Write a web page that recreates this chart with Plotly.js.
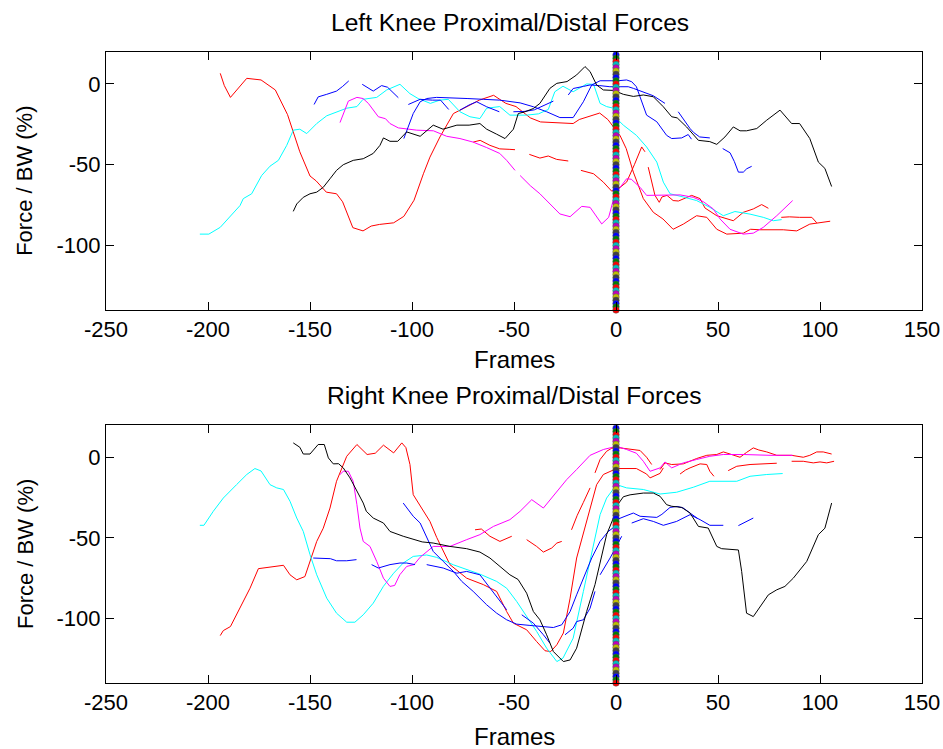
<!DOCTYPE html>
<html>
<head>
<meta charset="utf-8">
<script src="https://cdn.plot.ly/plotly-3.0.1.min.js"></script>
<style>html,body{margin:0;padding:0;background:#fff;}#chart{width:943px;height:749px;}</style>
</head>
<body>
<div id="chart"></div>
<script>
// ---------------- DATA: Left knee (top panel) ----------------
const topRed1X = [-194,-192,-189,-186,-181,-174,-167,-161,-158,-155,-150,-147,-142,-137,-134,-129,-124,-120,-116,-109,-104,-99,-94.4,-91.2,-86.3,-79.7,-73,-67,-60,-54,-49,-42,-37,-30,-21,-18,-13,-8,-4,-1,2,5,8.5,13.4,18.3,23,28,33,39.5,44.5,49.4,54.3,62.4,66,70.6,82,88.6,95,101.6,105];
const topRed1Y = [6.6,-1,-8.3,-4,3.5,2.5,-3.7,-19,-30,-42,-57,-60,-67,-68,-73,-89,-91,-88,-87,-86,-82,-72,-55.6,-45.3,-32.8,-18.3,-14,-10,-7,-12,-14,-21,-23.5,-24,-24.5,-22,-20,-18,-22,-27,-32,-40,-54.6,-71,-79.5,-83.6,-90,-86.8,-81.6,-82.6,-90,-93,-92.4,-90,-90.3,-90.3,-91,-86.8,-85.7,-85];
const topRed2aX = [-70,-66.6,-61.8,-57,-52,-49.5];
const topRed2aY = [-36,-34.9,-38,-40.2,-40.5,-40.7];
const topRed2bX = [-42.5,-37.3,-33.2,-29.1,-23.4];
const topRed2bY = [-43.6,-45.9,-44.6,-46.7,-47.7];
const topRed2cX = [-17.2,-11,-6.2,-2.1,2,5.2,9,12.6,14.2];
const topRed2cY = [-53.5,-55.6,-60.8,-66.4,-64,-60.8,-50,-39,-42];
const topRed3X = [15.8,17.5,19.1,21.2,22.5,25,28,30.6,37.1,41.2,43.6,49.4,57.5,62.4,67.3,71.4,74.7];
const topRed3Y = [-51.5,-60,-69,-73.3,-70,-69,-72.2,-72.5,-69,-71,-76.8,-81.6,-84.7,-79.5,-77.4,-74.7,-77];
const topRed4X = [81,85,90,96,98.4];
const topRed4Y = [-82.6,-82.3,-82.6,-82.6,-86];

const topBlue1X = [-148,-146,-141.8,-137,-134,-131];
const topBlue1Y = [-12.7,-8,-6.4,-4.4,-1.5,1.9];
const topBlue2X = [-124.4,-119,-114.9,-112,-106.7];
const topBlue2Y = [-0.2,-4.4,-1,-2,-8.5];
const topBlue3X = [-104,-99.4,-96,-92.8,-87.9,-80,-73,-65,-57,-47,-40.5,-34,-27.5,-21,-16,-11.9,-7.8,-2,1,5.2,7.7,10,12.6,15,20,24.8,27.3,32.2,35.4,37];
const topBlue3Y = [-33.8,-18.3,-11,-9,-8.3,-8.5,-9,-9.5,-10,-11.7,-14.1,-17.2,-20.8,-20.8,-11,-0.6,2,2,2,2.5,1.4,-1.7,-11,-19.3,-23.4,-31.8,-33.8,-33.4,-31.3,-34.2];
const topBlue4X = [-101.8,-96,-90,-86,-82];
const topBlue4Y = [-12.7,-9.5,-10,-10,-15.8];
const topBlue5X = [-76.5,-72,-68.3,-63.4,-57.2];
const topBlue5Y = [-16.2,-13,-11,-14.1,-17.2];
const topBlue6aX = [-50.3,-45,-40,-35,-30.7];
const topBlue6aY = [-17.2,-17,-16,-13,-10.6];
const topBlue6bX = [-23.4,-21,-16,-12.7,-8,-3,2,6,8.5,13.4,18.3,24];
const topBlue6bY = [-6.8,-2.8,-1.5,-0.6,-1,-1.7,-1.7,-1.7,-2.7,-4.8,-7.3,-12];
const topBlue7X = [30.5,33,36.3,38,41,46];
const topBlue7Y = [-17.2,-22,-27.6,-30,-32.8,-33.4];
const topBlue8X = [52.3,55.9,58,60,62.4,64.1,66.5];
const topBlue8Y = [-40,-42.6,-48,-54.6,-54.6,-52.5,-51];

const topCyanX = [-204,-199.6,-194,-190.7,-184.3,-182.7,-178.6,-173.7,-169.6,-165.5,-161.4,-158.2,-155,-151.6,-146.7,-141.8,-137,-132,-127,-124,-117.3,-112.4,-105.9,-101,-97,-91,-86.3,-82.2,-76.5,-71.6,-66.7,-63.4,-57,-52,-43.8,-38,-33.2,-30,-26,-21,-14.4,-11,-7.8,-4.6,-1.3,0.3,3.6,10,15,20,23.2,26.5,33,39.5,46,52.6,58.3,65.7,72.2,77.1,81.2];
const topCyanY = [-93,-93,-88.8,-84,-75.3,-71,-68,-56.7,-50.9,-47.3,-38,-28.6,-28,-30.7,-24.5,-19.7,-17.2,-15,-14,-9.5,-8.3,-3.7,-0.2,-6,-9,-12,-10,-9.5,-17.2,-20.3,-21.4,-15,-14,-19.3,-19.3,-18.5,-15.8,-4.8,-1.4,-4.8,0,-0.2,-12,-14,-15,-21.4,-25.5,-31.8,-39,-48.4,-60.8,-68,-70,-72.2,-76.4,-81.6,-79,-80.6,-82.6,-84.7,-84];

const topMag1X = [-135.3,-133.7,-131.2,-127,-124,-121.4,-116.5,-113,-110.8,-106.7,-101,-97.7,-89.5,-83,-76.5,-70,-63.4,-57,-53.6,-49.5];
const topMag1Y = [-23.9,-18.9,-10.6,-8.3,-9,-12,-20.3,-21.5,-24.5,-27.2,-28,-28.6,-29,-32.4,-33.8,-36,-39.4,-43,-47.3,-53.5];
const topMag2X = [-47,-42,-37.3,-32.4,-27.5,-22.5,-16.8,-12.7,-7,-3.6,-0.5,0.3,5.2,7.5,11.8,15,21.6,31.4,37.9,42.8,47.7,51,55.9,62.4,67.3,72.2,78.8,82.8,86.6];
const topMag2Y = [-56.7,-63,-68,-74.3,-80.5,-82.2,-75.8,-76.4,-86.7,-82.6,-68,-67,-58.7,-59,-64,-69,-68.7,-68.7,-70.2,-72.9,-77.4,-83.6,-90,-93,-92.4,-88.8,-81.6,-77,-72.2];

const topBlackX = [-158.2,-156.5,-153.3,-150,-146.7,-143.5,-140.2,-137,-133.7,-128.8,-123.9,-119,-115.7,-114,-110.8,-107,-102.6,-96,-89.6,-84.8,-78,-72,-66.7,-63.4,-58.5,-54.4,-50.3,-47.9,-44.6,-40.5,-37.3,-32.4,-29,-24,-19.3,-15.2,-12.7,-9.5,-6.2,-1,3.6,8.5,13.4,18.3,23.2,27.3,30,34.6,40.4,46,49.4,53.4,57.5,60.8,64,69,73.9,80.4,86.1,90,95,99.2,102.4,105.7];
const topBlackY = [-78.9,-74.3,-70.2,-68,-67,-64,-58.7,-53.5,-50,-47.3,-46.3,-43,-38,-33.4,-35.5,-35.5,-29.7,-32.4,-25.5,-28,-25.5,-25.5,-24.5,-28,-31.1,-33.8,-28,-18.3,-17.2,-15.2,-12,-2.7,0.4,1.5,5.6,10.8,7.7,-0.6,-3.7,-4,-6.4,-7.7,-6.8,-7.9,-14.1,-20.3,-21,-26.6,-34.9,-35.7,-37.4,-32.8,-26.6,-29,-29,-27.6,-22.4,-16.2,-24.5,-24.5,-33.8,-48.4,-52.3,-63.5];

// ---------------- DATA: Right knee (bottom panel) ----------------
const botRed1X = [-194,-192.5,-189,-184.3,-179.4,-175.3,-171.4,-163,-159.8,-156.5,-152.5,-146.7,-143.5,-140.2,-137,-132,-127,-122,-118,-114,-109,-105,-103,-101,-99.4,-96,-91.2,-87.9,-84.7,-81.4,-73.2,-65,-58.5,-53.6,-50.3,-43.8,-38.9,-34.8,-32,-29,-25.8,-22.5,-19.3,-14.4,-9.5,-6.2,-1.3,0.3,10,15,16.7,21.6,23.2];
const botRed1Y = [-110.6,-107.5,-105,-93.6,-81.2,-69.1,-68.3,-67,-72.9,-76,-74,-52.2,-44,-31.5,-14.9,0.6,7.9,1.7,2.5,7.5,2.7,8.9,6,-4.5,-23.2,-30.4,-39.8,-49.7,-58.4,-66.6,-75,-79,-83.2,-95.7,-102.9,-107,-114.3,-120,-120.5,-116.3,-109,-87.4,-62.5,-39.8,-17,-10.7,-7.6,-7,-7,-10.4,-12.8,-10,-6.6];
const botRed3aX = [-69.1,-66,-61.8,-56.9,-51.1];
const botRed3aY = [-45,-44.5,-49,-52.2,-49];
const botRed3bX = [-43.8,-38.9,-35.6,-31.5,-29,-26.6];
const botRed3bY = [-51.1,-55.3,-58.8,-56.3,-53.2,-52.2];
const botRed4X = [-21.8,-19,-16,-12.7];
const botRed4Y = [-45,-36,-28,-19];
const botRed5X = [-10.3,-7.8,-4.6,-2.1,2,6.9,11.8,15,17.5];
const botRed5Y = [-9.7,-1.4,3.7,5.6,5.8,4.8,4.2,0,-4.5];
const botRed6X = [21.6,24,27.3,33,39.5,44.5,49.4,52.6,55.9,60.8,64,67.3,70,73.9,78.8,86.1,91.8,95,98.4,101.6,105.7];
const botRed6Y = [-7.6,-3.5,-4.5,-4.1,-0.8,1.2,1.7,3.3,2,0,3,5.8,4.5,3.3,1.2,1.2,0,1.2,3.3,3.3,2];
const botRed7X = [31.4,34,36.3,41.2,44.5,46,48];
const botRed7Y = [-10.4,-8,-6.6,-4.1,-4.5,-8.7,-11.8];
const botRed8X = [55,59.2,65.7,72,78.8];
const botRed8Y = [-8.3,-5.6,-4.5,-4,-3.7];
const botRed9X = [86.1,91.8,96.7,100,103.3,106.9];
const botRed9Y = [-2.5,-2.5,-3.5,-2.9,-3.5,-2.5];

const botMagX = [-135.3,-133.7,-131.2,-128.8,-127,-125.5,-123.9,-120.6,-117.3,-114,-110.8,-108.5,-106,-102.6,-99,-96,-89.6,-81.4,-73.2,-66.7,-60.1,-52,-47,-41.3,-35.6,-30.7,-24.2,-19.3,-12.7,-6.2,-1.3,0.3,5.2,10,13.4,16.7,21.6,24,27.3,33,39.5,46,52.6,62.4,75.5,86.6];
const botMagY = [-10.7,-8.7,-8.7,-15,-29.4,-43.9,-52.2,-55.3,-64.6,-75,-80.1,-79.5,-72.9,-67.7,-66.6,-62,-55.3,-55.3,-51.1,-48,-42.9,-38.7,-33.5,-26.3,-31.5,-24.2,-13.9,-7.6,1.2,4.8,6.2,6.8,4.8,2.5,-2.5,-8.7,-6.6,-2.9,-6.6,-3.5,-1.4,0.6,1.7,1.7,1.2,1.2];

const botBlackX = [-158.2,-155,-153.3,-150,-146,-143,-141,-138.6,-136,-133.7,-130.4,-127,-123.9,-122.4,-119,-114,-110.8,-104.3,-99.4,-95,-89.6,-81.4,-73.2,-66.7,-61.8,-56.9,-52,-48,-43.8,-40.5,-37.3,-34,-30.7,-25.8,-22.5,-19.3,-14.4,-10.3,-7.8,-4.6,-1.3,0.5,3.6,6.9,13.4,18.3,21.6,24.8,27.3,32.2,36.3,40.4,45.2,49.4,51.8,57.5,60,61.6,64,67.3,70.6,74.7,78.8,82.8,86.9,93.5,99.2,102.4,105.7];
const botBlackY = [8.9,6.2,2,2,7.9,7.9,-0.4,-4.1,-4,-6.6,-12.8,-21.1,-28.4,-33.5,-37.7,-40.8,-46,-49,-51.1,-52.5,-53.2,-55.3,-56.7,-58.8,-62.5,-67.7,-72.9,-75.8,-84.3,-95.7,-100.8,-110.1,-120.5,-126.7,-125.7,-118.4,-95.7,-79,-64.6,-48,-37.7,-30,-24.5,-23.3,-22.2,-22.2,-24.2,-29.4,-30.4,-31.1,-34.6,-42.9,-43.9,-55.3,-56.7,-57.3,-57.5,-70.8,-96.7,-98.8,-92.5,-85.3,-82.2,-80.1,-75,-64.6,-48,-44,-28.4];

const botCyanX = [-204,-202,-197.4,-192.5,-186,-181,-177,-174,-169.6,-166.3,-163,-159.8,-156.5,-153.3,-150,-146.7,-141.8,-137,-132,-128,-123.9,-119,-114,-109,-104.3,-99.4,-92.8,-87.9,-79.7,-73.2,-66.7,-58.5,-53.6,-48.7,-43.8,-38.9,-34,-29,-26,-21,-16,-11,-7.8,-4.6,-0.5,0.3,5.2,13.4,21.6,29.7,37.9,42.8,46,59.2,65.7,73.9,81.7];
const botCyanY = [-42.2,-42.2,-33.5,-25.3,-17,-10.7,-7,-8.5,-17,-19,-20,-27.3,-37.7,-46,-60.4,-72.9,-87.4,-96.7,-102.3,-102.3,-97.7,-90.5,-80,-71.9,-65.6,-61.5,-60.6,-62.1,-66.7,-69.8,-72.5,-77,-81.2,-89.4,-98.8,-108,-118.4,-126.7,-124.6,-112.2,-83.2,-54.2,-35.6,-25.3,-18,-17,-19,-20,-22.8,-21.7,-18.6,-16.6,-14.9,-14.9,-11.8,-10.7,-10.1];

const botBlue1X = [-148.4,-140,-137,-132,-127.2];
const botBlue1Y = [-62.5,-62.9,-64.2,-64.2,-63.5];
const botBlue2X = [-119.8,-116.5,-110.8,-105.9,-102.6,-98.5];
const botBlue2Y = [-66.6,-68.7,-66.6,-65.6,-65.6,-66.6];
const botBlue3X = [-92.8,-89.6,-84.7,-78,-73.2,-66.7,-61.8,-56.9,-53.6];
const botBlue3Y = [-66.6,-67.3,-68.7,-71.9,-70.8,-72.9,-81.2,-89.4,-94.6];
const botBlue4X = [-104.3,-101,-99.4,-96,-92.8,-89.6,-84.7,-79.7,-75.6,-70,-63.4,-58.5,-53.6,-48.7,-42.2,-36,-30.7,-26.6,-22.5,-19.3,-16,-11.9,-7.8,-3.8,-0.5,0.3,4.4,8.5,11.8,20,22.5,26.5,30,33,36.3,40];
const botBlue4Y = [-28.4,-33.5,-36.6,-40.8,-50.1,-58.4,-64.6,-70.8,-77,-83.2,-91.5,-96.7,-100.8,-103.5,-104.3,-105,-105.6,-103.9,-95.7,-85.3,-75,-62.5,-52.2,-46,-42.9,-38.7,-36.6,-34.6,-36.6,-37.3,-35.4,-31.1,-30.5,-31.5,-34.6,-38];
const botBlue5X = [7.7,13.4,18.3,23.2,29.7,36.3,41.2,46,52.6];
const botBlue5Y = [-40.8,-38.1,-39.8,-42.2,-39.8,-35.6,-38.7,-42.2,-42.2];
const botBlue6X = [60,64,67.3];
const botBlue6Y = [-42.4,-40,-37.7];
const botBlue7X = [-7.8,-2.9,2.8];
const botBlue7Y = [-72.9,-62.5,-49];
const botBlue8X = [-25,-21,-19.3,-16,-12.7,-10.3];
const botBlue8Y = [-110.1,-106,-101.9,-100.8,-93.6,-83.2];
const botBlue9X = [-46.2,-40.5,-35.6,-32.4];
const botBlue9Y = [-97.7,-102.9,-110.1,-115.3];

// event marker column at frame 0
const eventFrame = 0;
const eventY = [18,16,14,12,10,8,6,4,2,0,-2,-4,-6,-8,-10,-12,-14,-16,-18,-20,-22,-24,-26,-28,-30,-32,-34,-36,-38,-40,-42,-44,-46,-48,-50,-52,-54,-56,-58,-60,-62,-64,-66,-68,-70,-72,-74,-76,-78,-80,-82,-84,-86,-88,-90,-92,-94,-96,-98,-100,-102,-104,-106,-108,-110,-112,-114,-116,-118,-120,-122,-124,-126,-128,-130,-132,-134,-136,-138,-140];
const eventColors = ['#0000ff','#008000','#ff0000','#00bfbf','#bf00bf','#bfbf00','#404040'];

const xTicks = [-250,-200,-150,-100,-50,0,50,100,150];
const yTicks = [-100,-50,0];

// ---------------- BUILD ----------------
const traces = [];
function line(x, y, color, ax) {
  traces.push({x: x, y: y, type: 'scatter', mode: 'lines', xaxis: ax[0], yaxis: ax[1],
    line: {color: color, width: 1}, showlegend: false, hoverinfo: 'skip'});
}
const TOP = ['x', 'y'], BOT = ['x2', 'y2'];
const R = '#ff0000', B = '#0000ff', C = '#00ffff', M = '#ff00ff', K = '#000000';

line(topRed1X, topRed1Y, R, TOP);
line(topRed2aX, topRed2aY, R, TOP);
line(topRed2bX, topRed2bY, R, TOP);
line(topRed2cX, topRed2cY, R, TOP);
line(topRed3X, topRed3Y, R, TOP);
line(topRed4X, topRed4Y, R, TOP);
line(topCyanX, topCyanY, C, TOP);
line(topMag1X, topMag1Y, M, TOP);
line(topMag2X, topMag2Y, M, TOP);
line(topBlue1X, topBlue1Y, B, TOP);
line(topBlue2X, topBlue2Y, B, TOP);
line(topBlue3X, topBlue3Y, B, TOP);
line(topBlue4X, topBlue4Y, B, TOP);
line(topBlue5X, topBlue5Y, B, TOP);
line(topBlue6aX, topBlue6aY, B, TOP);
line(topBlue6bX, topBlue6bY, B, TOP);
line(topBlue7X, topBlue7Y, B, TOP);
line(topBlue8X, topBlue8Y, B, TOP);
line(topBlackX, topBlackY, K, TOP);

line(botRed1X, botRed1Y, R, BOT);
line(botRed3aX, botRed3aY, R, BOT);
line(botRed3bX, botRed3bY, R, BOT);
line(botRed4X, botRed4Y, R, BOT);
line(botRed5X, botRed5Y, R, BOT);
line(botRed6X, botRed6Y, R, BOT);
line(botRed7X, botRed7Y, R, BOT);
line(botRed8X, botRed8Y, R, BOT);
line(botRed9X, botRed9Y, R, BOT);
line(botCyanX, botCyanY, C, BOT);
line(botMagX, botMagY, M, BOT);
line(botBlue1X, botBlue1Y, B, BOT);
line(botBlue2X, botBlue2Y, B, BOT);
line(botBlue3X, botBlue3Y, B, BOT);
line(botBlue4X, botBlue4Y, B, BOT);
line(botBlue5X, botBlue5Y, B, BOT);
line(botBlue6X, botBlue6Y, B, BOT);
line(botBlue7X, botBlue7Y, B, BOT);
line(botBlue8X, botBlue8Y, B, BOT);
line(botBlue9X, botBlue9Y, B, BOT);
line(botBlackX, botBlackY, K, BOT);

// event markers (both panels)
const evX = eventY.map(() => eventFrame);
const evC = eventY.map((v, i) => eventColors[i % eventColors.length]);
[TOP, BOT].forEach(ax => {
  traces.push({x: evX, y: eventY, type: 'scatter', mode: 'markers', xaxis: ax[0], yaxis: ax[1],
    cliponaxis: false, showlegend: false, hoverinfo: 'skip',
    marker: {symbol: 'circle', size: 6.5, color: evC, line: {width: 0.5, color: '#555'}}});
});

const W = 943, H = 749;
const axL = 106, axR = 922;
const topT = 51.7, topB = 310, botT = 425, botB = 683;
const FONT = 'Liberation Sans, Arial, Helvetica, sans-serif';

function xa(anchor) {
  return {domain: [axL / W, axR / W], anchor: anchor, range: [-250, 150], tickvals: xTicks,
    ticktext: xTicks.map(String), ticks: 'inside', ticklen: 8, tickcolor: '#000', tickwidth: 1,
    showline: true, linecolor: '#000', linewidth: 1, mirror: 'ticks', showgrid: false, zeroline: false,
    tickfont: {family: FONT, size: 22, color: '#000'}, automargin: false, fixedrange: true};
}
function ya(anchor, t, b) {
  return {domain: [1 - b / H, 1 - t / H], anchor: anchor, range: [-140, 20], tickvals: yTicks,
    ticktext: yTicks.map(String), ticks: 'inside', ticklen: 8, tickcolor: '#000', tickwidth: 1,
    showline: true, linecolor: '#000', linewidth: 1, mirror: 'ticks', showgrid: false, zeroline: false,
    tickfont: {family: FONT, size: 22, color: '#000'}, automargin: false, fixedrange: true};
}
const cx = ((axL + axR) / 2) / W;
function ann(text, x, y, size, angle) {
  return {text: text, x: x, y: y, xref: 'paper', yref: 'paper', xanchor: 'center', yanchor: 'middle',
    showarrow: false, textangle: angle || 0, font: {family: FONT, size: size, color: '#000'}};
}
const layout = {
  width: W, height: H, margin: {l: 0, r: 0, t: 0, b: 0, pad: 0},
  paper_bgcolor: '#fff', plot_bgcolor: '#fff', showlegend: false,
  xaxis: xa('y'), yaxis: ya('x', topT, topB),
  xaxis2: xa('y2'), yaxis2: ya('x2', botT, botB),
  annotations: [
    ann('Left Knee Proximal/Distal Forces', (331 + 688) / 2 / W, 1 - 22 / H, 24.6),
    ann('Right Knee Proximal/Distal Forces', cx, 1 - 395 / H, 24.6),
    ann('Frames', cx, 1 - 359 / H, 24),
    ann('Frames', cx, 1 - 736 / H, 24),
    ann('Force / BW (%)', 25 / W, 1 - ((topT + topB) / 2) / H, 22, -90),
    ann('Force / BW (%)', 25 / W, 1 - ((botT + botB) / 2) / H, 22, -90)
  ]
};
Plotly.newPlot('chart', traces, layout, {staticPlot: true, displayModeBar: false});
</script>
</body>
</html>
